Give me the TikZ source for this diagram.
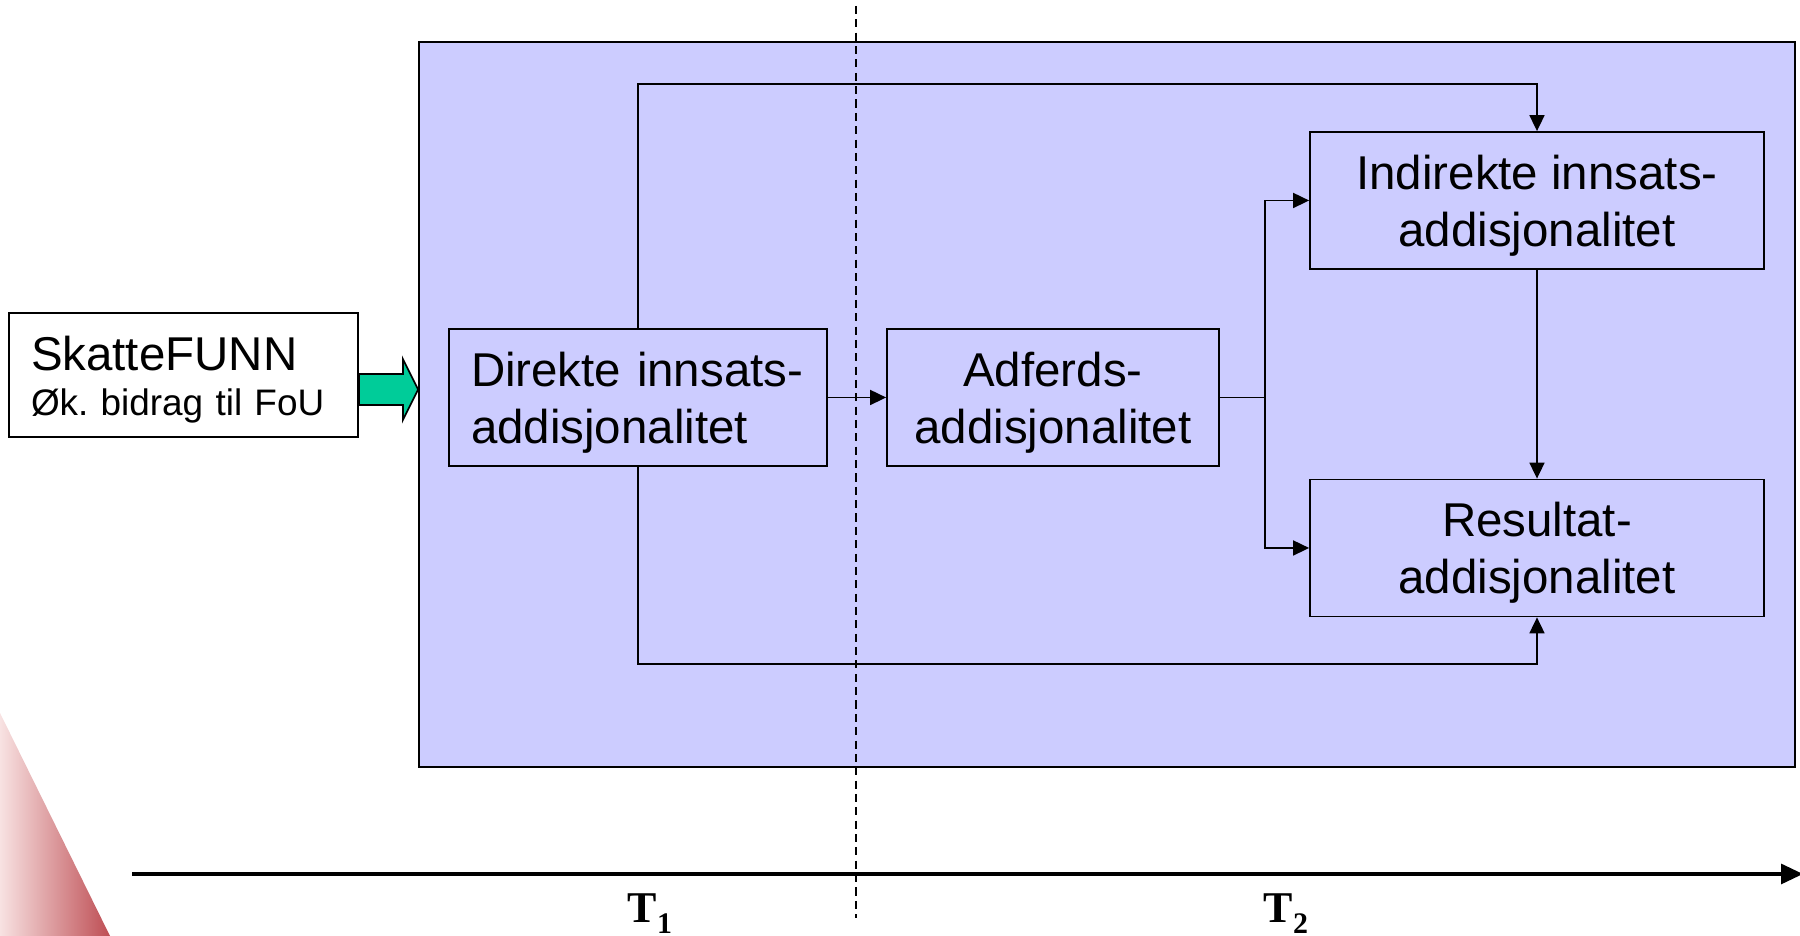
\documentclass[tikz,border=0pt]{standalone}
\usepackage{fontspec}
\setmainfont{Liberation Sans}
\newfontfamily\seriffont{Liberation Serif}
\usetikzlibrary{arrows.meta, calc}
\frenchspacing

\definecolor{panelblue}{RGB}{204,204,255}
\definecolor{arrowgreen}{RGB}{0,204,153}
\definecolor{cornerpink}{RGB}{248,226,226}
\definecolor{cornerred}{RGB}{190,78,84}
\newcommand{\topstrut}{\rule{0pt}{12.6pt}}

\begin{document}
\begin{tikzpicture}[
    box/.style={draw, line width=0.5pt, inner sep=0pt, minimum height=1.37cm, align=center, font=\fontsize{13.5}{16.2}\selectfont},
    link/.style={draw, line width=0.5pt, -{Triangle[length=1.6mm, width=1.5mm]}},
    tlabel/.style={font=\seriffont\bfseries\fontsize{12.5}{14}\selectfont, inner sep=0pt, anchor=base}
]
\useasboundingbox (0,0) rectangle (18,9.36);

% corner decoration
\shade[left color=cornerpink, right color=cornerred] (0,2.23) -- (1.10,0) -- (0,0) -- cycle;

% panel and input
\node[draw, line width=0.5pt, fill=panelblue, minimum width=13.76cm, minimum height=7.25cm, inner sep=0pt] (panel) at (11.07,5.315) {};
\node[draw, line width=0.5pt, fill=white, minimum height=1.24cm, text width=3.05cm, inner xsep=0.22cm, inner ysep=0pt, align=left, font=\fontsize{10.5}{12.8}\selectfont] (skatt) at (1.835,5.61)
    {\rule{0pt}{12.4pt}{\fontsize{13.5}{12.8}\selectfont SkatteFUNN}\\Øk. bidrag til FoU};

% boxes
\node[box, text width=3.34cm, inner xsep=0.22cm, align=left] (direkte) at (6.38,5.385) {\topstrut Direkte innsats-\\addisjonalitet};
\node[box, minimum width=3.32cm] (adferds) at (10.53,5.385) {\topstrut Adferds-\\addisjonalitet};
\node[box, minimum width=4.54cm] (indirekte) at (15.37,7.355) {\topstrut Indirekte innsats-\\addisjonalitet};
\node[box, minimum width=4.54cm] (resultat) at (15.37,3.88) {\topstrut Resultat-\\addisjonalitet};

% block arrow into the panel
\coordinate (ga) at ($(skatt.east)+(0,-0.145)$);
\draw[fill=arrowgreen, line width=0.5pt] ($(ga)+(0,0.155)$) -- ($(ga)+(0.44,0.155)$) -- ($(ga)+(0.44,0.305)$)
    -- (panel.west |- ga) -- ($(ga)+(0.44,-0.305)$) -- ($(ga)+(0.44,-0.155)$) -- ($(ga)+(0,-0.155)$) -- cycle;

% connectors
\coordinate (topy) at (0,8.52);
\coordinate (boty) at (0,2.72);
\coordinate (fork) at ($(adferds.east)+(0.45,0)$);
\draw[link] (direkte.north) -- (direkte.north |- topy) -| (indirekte.north);
\draw[link] (direkte.south) -- (direkte.south |- boty) -| (resultat.south);
\draw[link] (direkte.east) -- (adferds.west);
\draw[line width=0.5pt] (adferds.east) -- (fork);
\draw[link] (fork) |- (indirekte.west);
\draw[link] (fork) |- (resultat.west);
\draw[link] (indirekte.south) -- (resultat.north);

% time axis
\coordinate (dtop) at (8.56,9.30);
\coordinate (dbot) at (8.56,0.18);
\draw[line width=0.5pt, dash pattern=on 2.3pt off 1.5pt] (dtop) -- (dbot);
\coordinate (t0) at (1.32,0.62);
\coordinate (t1) at (18.03,0.62);
\draw[line width=0.9pt, -{Triangle[length=2.2mm, width=2mm]}] (t0) -- (t1);
\node[tlabel] (tone) at (6.50,0.13) {T\raisebox{-0.23em}{\fontsize{8.5}{9}\selectfont 1}};
\node[tlabel] (ttwo) at (12.86,0.13) {T\raisebox{-0.23em}{\fontsize{8.5}{9}\selectfont 2}};
\end{tikzpicture}
\end{document}
